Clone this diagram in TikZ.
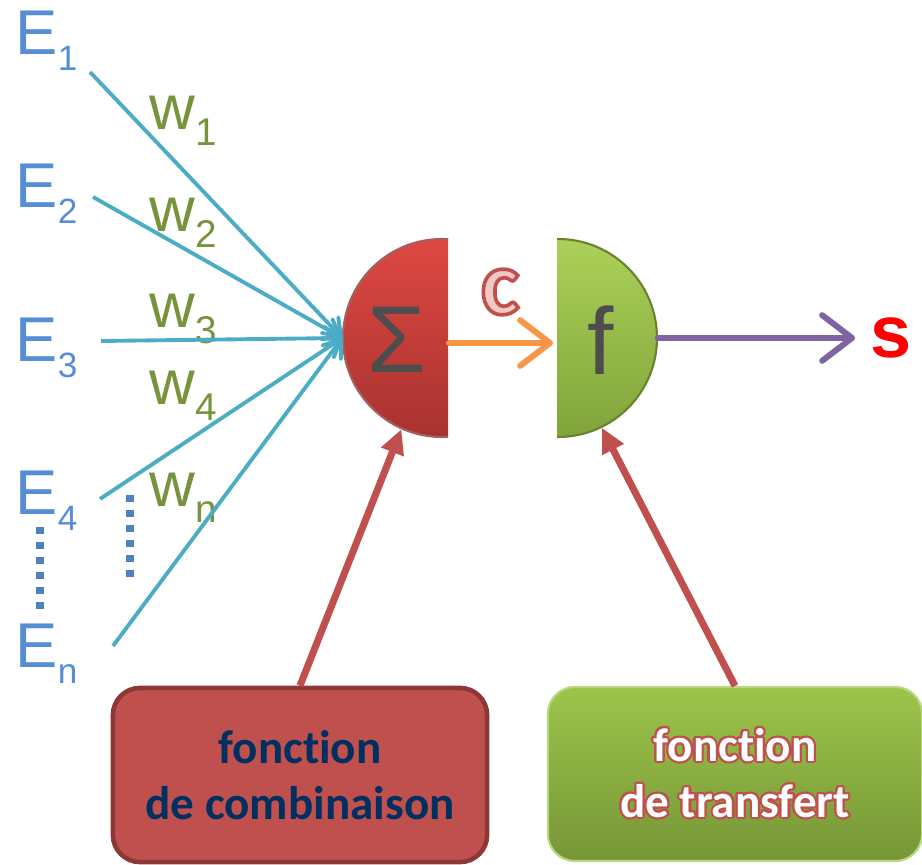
\documentclass[tikz,border=0pt]{standalone}
\usepackage{fontspec}
\usepackage{xcolor}
\usepackage{contour}
\usepackage{tikz}
\usetikzlibrary{arrows.meta,positioning,calc}

\newfontfamily\arialf{Liberation Sans}
\newfontfamily\calibf[Ligatures=NoCommon]{Carlito}
\newfontface\cfont[FakeBold=4]{Carlito Bold}

\definecolor{inblue}{RGB}{85,142,213}
\definecolor{wgreen}{RGB}{119,147,60}
\definecolor{aqua}{RGB}{75,172,198}
\definecolor{dotblue}{RGB}{79,129,189}
\definecolor{sumtop}{RGB}{222,72,66}
\definecolor{sumbot}{RGB}{168,50,47}
\definecolor{ftop}{RGB}{172,208,88}
\definecolor{fbot}{RGB}{128,164,58}
\definecolor{orangeln}{RGB}{247,150,70}
\definecolor{purpleln}{RGB}{128,100,162}
\definecolor{redln}{RGB}{192,80,77}
\definecolor{darkred}{RGB}{140,56,54}
\definecolor{navy}{RGB}{0,48,96}
\definecolor{gray4}{RGB}{77,77,77}
\definecolor{pinkc}{RGB}{240,200,198}
\definecolor{trtop}{RGB}{157,197,74}
\definecolor{trbot}{RGB}{118,150,55}

% label with a lowered index
\newcommand{\idx}[3]{#1\raisebox{-4.3pt}{\fontsize{#3}{#3}\selectfont #2}}
% red stroke round the glyphs of a FakeBold face
\newcommand{\redstroke}{\special{pdf:literal direct 0.753 0.314 0.302 RG}}

\begin{document}
\begin{tikzpicture}[x=0.01cm, y=-0.01cm]
        \tikzstyle{inlab} = [anchor=base west, inner sep=0, text=inblue, font=\arialf\fontsize{18}{18}\selectfont]
        \tikzstyle{wlab} = [anchor=base west, inner sep=0, text=wgreen, font=\arialf\fontsize{18}{18}\selectfont]
        \tikzstyle{neuron} = [circle, minimum size=1.98cm, inner sep=0]
        \tikzstyle{sym} = [text=gray4, font=\arialf\fontsize{27}{27}\selectfont]
        \tikzstyle{inline} = [draw=aqua, line width=1.1pt, -{Straight Barb[length=4.5pt,width=6.5pt,round]}]
        \tikzstyle{flowline} = [line width=1.7pt, line cap=round, -{Straight Barb[length=8.5pt,width=13pt,round]}]
        \tikzstyle{pointer} = [draw=redln, line width=2pt, -{Triangle[length=7pt,width=6.5pt]}]
        \tikzstyle{fbox} = [rounded corners=0.27cm, minimum width=3.74cm, minimum height=1.74cm, align=center, font=\calibf\bfseries\fontsize{13.4}{15.9}\selectfont]
        \tikzstyle{dots} = [draw=dotblue, line width=2pt, dash pattern=on 2pt off 2.25pt]

        \useasboundingbox (0,0) rectangle (922,865);

        % inputs and weights
        \node [inlab] (E1) at (15,55) {\idx{E}{1}{10}};
        \node [inlab] (E2) at (15,208) {\idx{E}{2}{10}};
        \node [inlab] (E3) at (15,362) {\idx{E}{3}{10}};
        \node [inlab] (E4) at (15,515) {\idx{E}{4}{10}};
        \node [inlab] (En) at (15,668) {\idx{E}{n}{10}};
        \node [wlab] (w1) at (149,130) {\idx{w}{1}{11}};
        \node [wlab] (w2) at (149,232) {\idx{w}{2}{11}};
        \node [wlab] (w3) at (149,328) {\idx{w}{3}{11}};
        \node [wlab] (w4) at (149,405) {\idx{w}{4}{11}};
        \node [wlab] (wn) at (149,507) {\idx{w}{n}{11}};
        \coordinate (s1) at (90,72);
        \coordinate (s2) at (93,197);
        \coordinate (s3) at (101,341);
        \coordinate (s4) at (100,499);
        \coordinate (sn) at (113,646);

        \draw [dots] (40,527) -- (40,609);
        \draw [dots] (130,495) -- (130,577);

        % the two half neurons
        \node [neuron] (sum) at (442,338) {};
        \node [neuron] (fct) at (558,338) {};
        \begin{scope}
            \clip (330,230) rectangle (448,450);
            \shade [top color=sumtop, bottom color=sumbot] (sum.center) circle [radius=99];
            \draw [darkred!80, line width=0.6pt] (sum.center) circle [radius=99];
        \end{scope}
        \begin{scope}
            \clip (557,230) rectangle (670,450);
            \shade [top color=ftop, bottom color=fbot] (fct.center) circle [radius=99];
            \draw [fbot!80!black, line width=0.6pt] (fct.center) circle [radius=99];
        \end{scope}
        \node [sym] (sigma) at (397,340) {Σ};
        \node [sym] (f) at (601,340) {f};

        \coordinate (sumout) at (449,343);
        \coordinate (fin) at (553,343);
        \node [text=pinkc, font=\cfont\fontsize{26}{26}\selectfont] (c) at (500,292) {\redstroke c};
        \node [anchor=west, inner sep=0.15cm, text=red, font=\arialf\bfseries\fontsize{21}{21}\selectfont] (out) at (855,338) {s};

        % boxes
        \node [fbox, fill=redln, draw=darkred, line width=1.3pt, text=navy] (comb) at (300,775) {fonction\\de combinaison};
        \node [fbox, top color=trtop, bottom color=trbot, draw=trtop!70!white, line width=0.6pt, text=white] (trans) at (735,774) {\contourlength{0.6pt}\contour{redln}{fonction}\\\contourlength{0.6pt}\contour{redln}{de transfert}};

        % connectors
        \foreach \i in {1,2,3,4,n}
            \draw [inline] (s\i) -- (sum.west);
        \draw [flowline, draw=orangeln] (sumout) -- (fin);
        \draw [flowline, draw=purpleln] (fct.east) -- (out.west);
        \draw [pointer] (comb.north) -- (sum.246);
        \draw [pointer] (trans.north) -- (fct.296);
\end{tikzpicture}
\end{document}
